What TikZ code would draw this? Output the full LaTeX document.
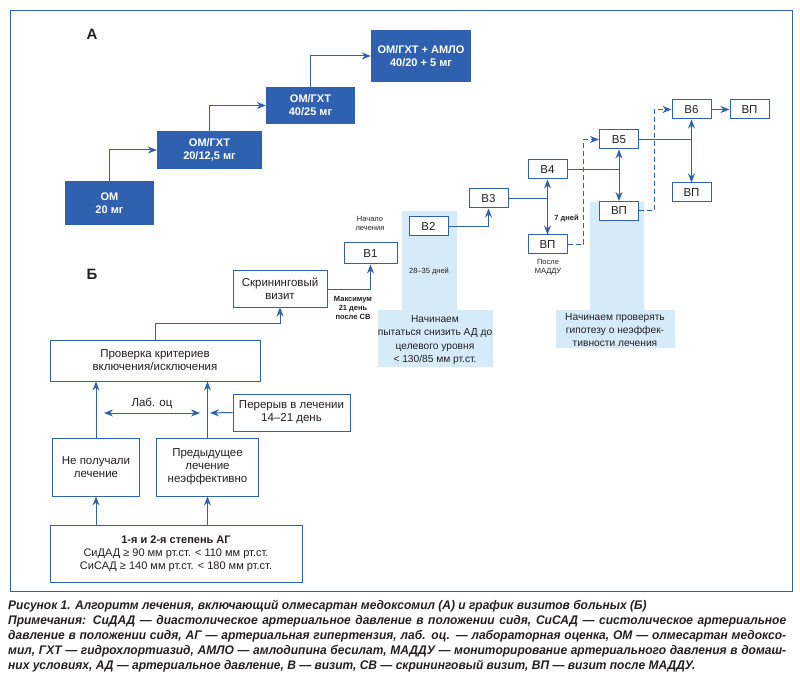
\documentclass[tikz,border=0pt]{standalone}
\usepackage{fontspec}
\setmainfont{Liberation Sans}
\newfontfamily\capfont[FakeStretch=0.96]{Liberation Sans}
\usepackage{tikz}
\usetikzlibrary{arrows.meta}
\definecolor{dblue}{RGB}{48,96,176}
\definecolor{lblue}{RGB}{214,235,249}
\definecolor{txt}{RGB}{35,31,32}
\newcommand{\boxfont}{\fontsize{11.5}{13}\selectfont}
\newcommand{\areafont}{\fontsize{10.2}{13.3}\selectfont}
\newcommand{\smallnote}{\fontsize{7.5}{9}\selectfont}
\newcommand{\capline}[1]{\makebox[778pt][s]{#1}}

\begin{document}
\begin{tikzpicture}[x=1pt,y=-1pt]
\tikzstyle{every node}=[text=txt]
\tikzstyle{dose}=[fill=dblue,text=white,align=center,inner sep=0pt,font=\fontsize{11}{13}\selectfont\bfseries]
\tikzstyle{visit}=[draw=dblue,line width=1pt,fill=white,minimum width=39pt,minimum height=19pt,inner sep=0pt,font=\boxfont]
\tikzstyle{stage}=[draw=dblue,line width=1pt,fill=white,align=center,inner sep=0pt,font=\boxfont]
\tikzstyle{note}=[align=center,inner sep=0pt,font=\smallnote]
\tikzstyle{plain}=[draw=dblue,line width=1pt]
\tikzstyle{flow}=[plain,-{Stealth[length=9pt,width=7pt]}]
\tikzstyle{both}=[plain,{Stealth[length=9pt,width=7pt]}-{Stealth[length=9pt,width=7pt]}]
\tikzstyle{wait}=[flow,dash pattern=on 5pt off 3pt]
\useasboundingbox (0,0) rectangle (800,676);
\draw[plain] (10,11) rectangle (792,591);
\fill[lblue] (402,211) rectangle (457,310) (378,310) rectangle (493,367);
\fill[lblue] (590,202) rectangle (644,310) (556,310) rectangle (675,348);
\node[font=\fontsize{15}{18}\selectfont\bfseries] (parta) at (92,34) {А};
\node[font=\fontsize{15}{18}\selectfont\bfseries] (partb) at (92,274) {Б};
\node[dose,minimum width=89pt,minimum height=44pt] (om1) at (109.5,203) {ОМ\\20 мг};
\node[dose,minimum width=105pt,minimum height=38pt] (om2) at (209.5,150) {ОМ/ГХТ\\20/12,5 мг};
\node[dose,minimum width=89pt,minimum height=37pt] (om3) at (310.5,105.5) {ОМ/ГХТ\\40/25 мг};
\node[dose,minimum width=100pt,minimum height=52pt] (om4) at (421,56) {ОМ/ГХТ + АМЛО\\40/20 + 5 мг};
\draw[flow] (om1.north) |- (om2.west);
\draw[flow] (om2.north) |- (om3.west);
\draw[flow] (om3.north) |- (om4.west);
\node[font=\areafont,align=center,inner sep=0pt] (aim) at (435,340) {Начинаем\\пытаться снизить АД до\\целевого уровня\\< 130/85 мм рт.ст.};
\node[font=\areafont,align=center,inner sep=0pt] (test) at (615,330) {Начинаем проверять\\гипотезу о неэффек-\\тивности лечения};
\node[visit,minimum width=53pt,minimum height=21pt] (v1) at (370.5,253.5) {В1};
\node[visit] (v2) at (428.5,226.5) {В2};
\node[visit] (v3) at (488.5,198.5) {В3};
\node[visit] (v4) at (547.5,169.5) {В4};
\node[visit] (vp4) at (547.5,244.5) {ВП};
\node[visit] (v5) at (619,139.5) {В5};
\node[visit] (vp5) at (619,211) {ВП};
\node[visit] (v6) at (691.5,109.5) {В6};
\node[visit] (vp6) at (691.5,192.5) {ВП};
\node[visit] (vpend) at (749.5,109.5) {ВП};
\node[note] (start) at (370,223) {Начало\\лечения};
\node[note] (days) at (429,271) {28–35 дней};
\node[note,font=\smallnote\bfseries] (week) at (566.5,218) {7 дней};
\node[note] (after) at (548,267) {После\\МАДДУ};
\node[note,font=\smallnote\bfseries] (maxd) at (353,308) {Максимум\\21 день\\после СВ};
\draw[flow] (v2.east) -| (v3.south);
\draw[plain] (v3.east) -- (v3.east -| v4.south);
\draw[both] (v4.south) -- (vp4.north);
\draw[wait] (vp4.east) -- ++(16,0) |- (v5.west);
\draw[plain] (v4.east) -- (v4.east -| v5.south);
\draw[both] (v5.south) -- (vp5.north);
\draw[wait] (vp5.east) -- ++(15,0) |- (v6.west);
\draw[plain] (v5.east) -- (v5.east -| v6.south);
\draw[both] (v6.south) -- (vp6.north);
\draw[flow] (v6.east) -- (vpend.west);
\node[stage,minimum width=94pt,minimum height=36pt] (sv) at (280,289) {Скрининговый\\визит};
\node[stage,minimum width=210pt,minimum height=41pt] (chk) at (155,360.5) {Проверка критериев\\включения/исключения};
\node[stage,minimum width=87pt,minimum height=58pt] (np) at (96,467) {Не получали\\лечение};
\node[stage,minimum width=102pt,minimum height=58pt] (pl) at (207.5,467) {Предыдущее\\лечение\\неэффективно};
\node[stage,minimum width=117pt,minimum height=37pt] (br) at (291.5,412.5) {Перерыв в лечении\\14–21 день};
\node[stage,minimum width=252pt,minimum height=57pt,font=\fontsize{11}{13}\selectfont] (ag) at (176,553.5) {\textbf{1-я и 2-я степень АГ}\\СиДАД ≥ 90 мм рт.ст. < 110 мм рт.ст.\\СиСАД ≥ 140 мм рт.ст. < 180 мм рт.ст.};
\draw[flow] (sv.east) -| (v1.south);
\draw[flow] (chk.north) -- ++(0,-16) -| (sv.south);
\draw[flow] (ag.north -| np.south) -- (np.south);
\draw[flow] (ag.north -| pl.south) -- (pl.south);
\draw[flow] (np.north) -- (np.north |- chk.south);
\draw[flow] (pl.north) -- (pl.north |- chk.south);
\coordinate (labl) at (104,413);
\coordinate (labr) at (200,413);
\coordinate (gap) at (210,413);
\draw[both] (labl) -- (labr);
\draw[flow] (br.west) -- (gap);
\node[font=\boxfont] (lab) at (152,403) {Лаб. оц};
\node[anchor=north west,inner sep=0pt,align=left,font=\capfont\fontsize{12.5}{15}\bfseries\itshape] (cap) at (8,600) {Рисунок 1. Алгоритм лечения, включающий олмесартан медоксомил (А) и график визитов больных (Б)\\
\capline{Примечания: СиДАД — диастолическое артериальное давление в положении сидя, СиСАД — систолическое артериальное}\\
\capline{давление в положении сидя, АГ — артериальная гипертензия, лаб. оц. — лабораторная оценка, ОМ — олмесартан медоксо-}\\
\capline{мил, ГХТ — гидрохлортиазид, АМЛО — амлодипина бесилат, МАДДУ — мониторирование артериального давления в домаш-}\\
них условиях, АД — артериальное давление, В — визит, СВ — скрининговый визит, ВП — визит после МАДДУ.};
\end{tikzpicture}
\end{document}
